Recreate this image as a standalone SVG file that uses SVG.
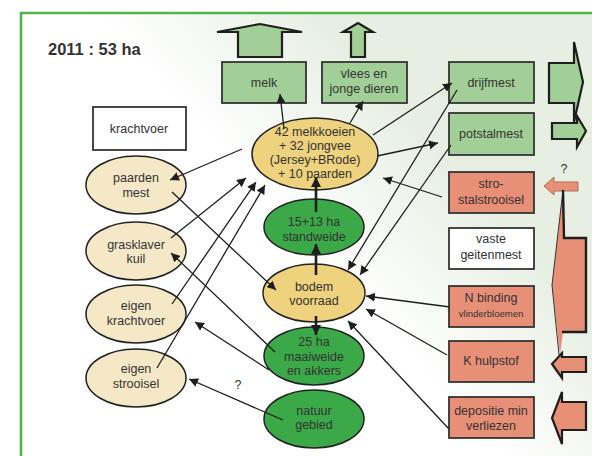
<svg xmlns="http://www.w3.org/2000/svg" width="592" height="456" viewBox="0 0 592 456">
<defs>
<linearGradient id="bg" gradientUnits="userSpaceOnUse" x1="290" y1="230" x2="410" y2="120">
<stop offset="0" stop-color="#ffffff"/>
<stop offset="1" stop-color="#e7efe3"/>
</linearGradient>
<marker id="ah" viewBox="0 0 10 10" refX="10" refY="5" markerWidth="9" markerHeight="9" markerUnits="userSpaceOnUse" orient="auto">
<path d="M0,0 L10,5 L0,10 z" fill="#1e1e1e"/>
</marker>
<marker id="ahb" viewBox="0 0 10 10" refX="10" refY="5" markerWidth="10" markerHeight="10" markerUnits="userSpaceOnUse" orient="auto">
<path d="M0,0 L10,5 L0,10 z" fill="#1e1e1e"/>
</marker>
</defs>
<style>
text{font-family:"Liberation Sans",Arial,sans-serif;font-size:12.5px;fill:#333;text-anchor:middle}
.title{font-size:16.5px;font-weight:bold;text-anchor:start}
.small{font-size:9.5px}
.gbox{fill:#a2cf97;stroke:#333;stroke-width:1.8}
.sbox{fill:#e88f78;stroke:#333;stroke-width:1.8}
.wbox{fill:#ffffff;stroke:#333;stroke-width:1.8}
.yell{fill:#eed27e;stroke:#222;stroke-width:1.5}
.cream{fill:#f5e8c7;stroke:#222;stroke-width:1.5}
.dg{fill:#3ba947;stroke:#222;stroke-width:1.5}
.garr{fill:#a2cf97;stroke:#1e1e1e;stroke-width:2.2;stroke-linejoin:miter}
.sarr{fill:#e88f78;stroke:#1e1e1e;stroke-width:2.2}
.c{fill:none;stroke:#1e1e1e;stroke-width:1.3;marker-end:url(#ah)}
.ct{fill:none;stroke:#1e1e1e;stroke-width:2.6;marker-end:url(#ahb)}
</style>
<rect x="0" y="0" width="592" height="456" fill="#ffffff"/>
<rect x="21" y="13" width="571" height="443" fill="url(#bg)"/>
<path d="M21,456 L21,13 L592,13" fill="none" stroke="#4cb748" stroke-width="2.6"/>
<text class="title" x="48" y="55">2011 : 53 ha</text>

<g id="big-arrows">
<polygon class="garr" points="238,57 238,32 217,32 260,24 302,32 282,32 282,57"/>
<polygon class="garr" points="351,57 351,32 343,32 358,23 373,32 365,32 365,57"/>
<polygon class="garr" points="549,63 574,63 574,42 583,82 574,122 574,103 549,103"/>
<polygon class="garr" points="552,123 577,123 577,116 586,131 577,147 577,139 552,139"/>
<polygon points="544,186 554,177 554,182 578,182 578,191 554,191 554,195" fill="#e88f78" stroke="#b86a58" stroke-width="1"/>
<text x="564" y="173" font-size="11">?</text>
<polygon points="563,190 563,238 586,238 586,332 563,332 560,355 552,285" fill="#e88f78"/>
<polyline points="563,190 552,285 559,355" fill="none" stroke="#333" stroke-width="1"/>
<polyline points="563,190 564,238 586,238 586,332 562,332" fill="none" stroke="#1e1e1e" stroke-width="2.4"/>
<polygon class="sarr" points="586,357 562,357 562,353 552,364 562,378 562,372 586,372"/>
<polygon class="sarr" points="586,402 562,402 562,392 552,418 562,444 562,430 586,430"/>
</g>

<g id="melk"><rect class="gbox" x="222" y="62" width="84" height="41"/><text x="264" y="87">melk</text></g>
<g id="vlees"><rect class="gbox" x="322" y="62" width="85" height="41"/><text x="364" y="78">vlees en</text><text x="364" y="93">jonge dieren</text></g>
<g id="drijfmest"><rect class="gbox" x="449" y="62" width="85" height="41"/><text x="491" y="87">drijfmest</text></g>
<g id="potstalmest"><rect class="gbox" x="449" y="113" width="85" height="42"/><text x="491" y="138">potstalmest</text></g>
<g id="strooisel"><rect class="sbox" x="449" y="172" width="85" height="41"/><text x="491" y="188">stro-</text><text x="491" y="204">stalstrooisel</text></g>
<g id="geitenmest"><rect class="wbox" x="449" y="228" width="85" height="41"/><text x="491" y="243">vaste</text><text x="491" y="259">geitenmest</text></g>
<g id="nbinding"><rect class="sbox" x="449" y="286" width="85" height="41"/><text x="491" y="302" font-size="13">N binding</text><text class="small" x="491" y="317">vlinderbloemen</text></g>
<g id="khulpstof"><rect class="sbox" x="449" y="341" width="85" height="41"/><text x="491" y="365">K hulpstof</text></g>
<g id="depositie"><rect class="sbox" x="449" y="397" width="85" height="41"/><text x="491" y="415">depositie min</text><text x="491" y="430">verliezen</text></g>
<g id="krachtvoer"><rect class="wbox" x="93" y="107" width="93" height="43"/><text x="139" y="133">krachtvoer</text></g>

<g id="vee"><ellipse class="yell" cx="315" cy="154" rx="63" ry="36"/><text x="315" y="136">42 melkkoeien</text><text x="315" y="150">+ 32 jongvee</text><text x="315" y="164">(Jersey+BRode)</text><text x="315" y="178">+ 10 paarden</text></g>
<g id="standweide"><ellipse class="dg" cx="314" cy="227" rx="50" ry="28"/><text x="314" y="226">15+13 ha</text><text x="314" y="241">standweide</text></g>
<g id="bodem"><ellipse class="yell" cx="314" cy="293" rx="51" ry="29"/><text x="314" y="291">bodem</text><text x="314" y="305">voorraad</text></g>
<g id="maaiweide"><ellipse class="dg" cx="314" cy="356" rx="50" ry="29"/><text x="314" y="346">25 ha</text><text x="314" y="361">maaiweide</text><text x="314" y="375">en akkers</text></g>
<g id="natuur"><ellipse class="dg" cx="314" cy="419" rx="50" ry="29"/><text x="314" y="415">natuur</text><text x="314" y="429">gebied</text></g>
<g id="paardenmest"><ellipse class="cream" cx="136" cy="185" rx="50" ry="29"/><text x="136" y="182">paarden</text><text x="136" y="197">mest</text></g>
<g id="grasklaver"><ellipse class="cream" cx="136" cy="251" rx="50" ry="29"/><text x="136" y="249">grasklaver</text><text x="136" y="263">kuil</text></g>
<g id="eigenkrachtvoer"><ellipse class="cream" cx="136" cy="314" rx="50" ry="29"/><text x="136" y="310">eigen</text><text x="136" y="325">krachtvoer</text></g>
<g id="eigenstrooisel"><ellipse class="cream" cx="136" cy="378" rx="50" ry="29"/><text x="136" y="373">eigen</text><text x="136" y="388">strooisel</text></g>

<g id="connectors">
<line class="c" x1="284" y1="129" x2="280" y2="94"/>
<line class="c" x1="350" y1="123" x2="363" y2="101"/>
<line class="c" x1="373" y1="135" x2="452" y2="83"/>
<line class="c" x1="377" y1="156" x2="438" y2="143"/>
<line class="c" x1="457" y1="90" x2="348" y2="270"/>
<line class="c" x1="451" y1="145" x2="360" y2="275"/>
<line class="c" x1="442" y1="197" x2="383" y2="178"/>
<line class="c" x1="450" y1="307" x2="366" y2="296"/>
<line class="c" x1="447" y1="355" x2="366" y2="309"/>
<line class="c" x1="449" y1="429" x2="348" y2="321"/>
<line class="ct" x1="316" y1="275" x2="316" y2="244"/>
<line class="ct" x1="316" y1="212" x2="316" y2="177"/>
<line class="ct" x1="316" y1="316" x2="316" y2="335"/>
<line class="c" x1="242" y1="149" x2="170" y2="180"/>
<line class="c" x1="172" y1="192" x2="276" y2="290"/>
<line class="c" x1="171" y1="238" x2="246" y2="178"/>
<line class="c" x1="172" y1="304" x2="256" y2="182"/>
<line class="c" x1="157" y1="368" x2="265" y2="185"/>
<line class="c" x1="275" y1="352" x2="171" y2="253"/>
<line class="c" x1="269" y1="370" x2="195" y2="322"/>
<line class="c" x1="283" y1="420" x2="189" y2="379"/>
<text x="238" y="389" font-size="11">?</text>
</g>
</svg>
